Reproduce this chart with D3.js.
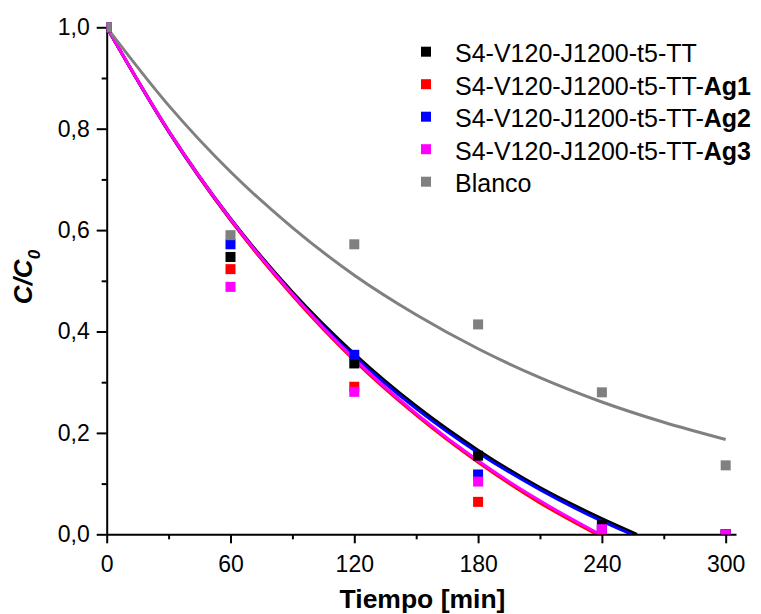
<!DOCTYPE html>
<html><head><meta charset="utf-8">
<script src="https://cdn.jsdelivr.net/npm/d3@7"></script>
<style>
body{margin:0;background:#fff;}
svg{display:block;font-family:"Liberation Sans",Arial,sans-serif;}
</style></head>
<body><svg id="chart" width="761" height="614"></svg>
<script>
// ---- data ----
const times = [0, 60, 120, 180, 240, 300];
const seriesNames = ["S4-V120-J1200-t5-TT", "S4-V120-J1200-t5-TT-", "S4-V120-J1200-t5-TT-", "S4-V120-J1200-t5-TT-", "Blanco"];
const seriesBold = ["", "Ag1", "Ag2", "Ag3", ""];
const seriesColors = ["#000000", "#ff0000", "#0000ff", "#ff00ff", "#808080"];
const valTT     = [1.0, 0.547, 0.337, 0.155, 0.018, 0.0];
const valAg1    = [1.0, 0.523, 0.291, 0.064, 0.004, 0.0];
const valAg2    = [1.0, 0.572, 0.354, 0.118, 0.010, 0.0];
const valAg3    = [1.0, 0.488, 0.281, 0.104, 0.010, 0.0];
const valBlanco = [1.0, 0.590, 0.572, 0.414, 0.280, 0.136];

// fitted curves
const fitTimesTT  = [0, 30, 60, 90, 120, 150, 180, 210, 240, 257];
const fitTT       = [1.0, 0.796, 0.623, 0.478, 0.356, 0.253, 0.166, 0.092, 0.031, 0.0];
const fitTimesAg2 = [0, 30, 60, 90, 120, 150, 180, 210, 240, 254.5];
const fitAg2      = [1.0, 0.794, 0.620, 0.474, 0.351, 0.248, 0.161, 0.088, 0.026, 0.0];
const fitTimesAg1 = [0, 30, 60, 90, 120, 150, 180, 210, 237.5];
const fitAg1      = [1.0, 0.795, 0.620, 0.471, 0.343, 0.235, 0.142, 0.062, 0.0];
const fitTimesAg3 = [0, 30, 60, 90, 120, 150, 180, 210, 239];
const fitAg3      = [1.0, 0.796, 0.622, 0.474, 0.346, 0.238, 0.145, 0.066, 0.0];
const fitTimesBl  = [0, 30, 60, 90, 120, 150, 180, 210, 240, 270, 300];
const fitBlanco   = [1.0, 0.846, 0.715, 0.605, 0.511, 0.433, 0.366, 0.309, 0.261, 0.221, 0.187];

const xMajor = [0, 60, 120, 180, 240, 300];
const xMinor = [30, 90, 150, 210, 270];
const yMajor = [0, 0.2, 0.4, 0.6, 0.8, 1.0];
const yMinor = [0.1, 0.3, 0.5, 0.7, 0.9];

// ---- layout ----
const svg = d3.select("#chart");
const x = d3.scaleLinear().domain([0, 305]).range([106.7, 736]);
const y = d3.scaleLinear().domain([0, 1]).range([534.3, 27.3]);
const fmt = d => d3.format(".1f")(d).replace(".", ",");

svg.append("defs").append("clipPath").attr("id", "clip")
  .append("rect").attr("x", x(0)).attr("y", 0).attr("width", 761 - x(0)).attr("height", y(0));

// axes
const gx = svg.append("g").attr("transform", `translate(0,${y(0)})`)
  .call(d3.axisBottom(x).tickValues(xMajor).tickFormat(d3.format("d")).tickSize(9).tickSizeOuter(0).tickPadding(12));
svg.append("g").attr("transform", `translate(0,${y(0)})`)
  .call(d3.axisBottom(x).tickValues(xMinor).tickFormat("").tickSize(5).tickSizeOuter(0))
  .select(".domain").remove();
const gy = svg.append("g").attr("transform", `translate(${x(0)},0)`)
  .call(d3.axisLeft(y).tickValues(yMajor).tickFormat(fmt).tickSize(10).tickSizeOuter(0).tickPadding(7));
svg.append("g").attr("transform", `translate(${x(0)},0)`)
  .call(d3.axisLeft(y).tickValues(yMinor).tickFormat("").tickSize(5).tickSizeOuter(0))
  .select(".domain").remove();
svg.selectAll(".domain, .tick line").attr("stroke", "#000").attr("stroke-width", 2);
svg.selectAll(".tick text").attr("font-size", 23).attr("fill", "#000")
  .attr("font-family", "Liberation Sans, Arial, sans-serif");

// axis titles
svg.append("text").attr("x", 422.5).attr("y", 608).attr("text-anchor", "middle")
  .attr("font-size", 26.5).attr("font-weight", "bold").text("Tiempo [min]");
const yt = svg.append("text").attr("transform", "translate(32,277) rotate(-90)")
  .attr("text-anchor", "middle").attr("font-size", 26).attr("font-weight", "bold").attr("font-style", "italic");
yt.append("tspan").text("C/C");
yt.append("tspan").attr("font-size", 17).attr("dy", 8).text("0");

// fit lines
const plot = svg.append("g").attr("clip-path", "url(#clip)");
const line = d3.line().x(d => x(d[0])).y(d => y(d[1])).curve(d3.curveMonotoneX);
const fits = [
  [fitTimesTT, fitTT, seriesColors[0]],
  [fitTimesAg2, fitAg2, seriesColors[2]],
  [fitTimesAg1, fitAg1, seriesColors[1]],
  [fitTimesAg3, fitAg3, seriesColors[3]],
  [fitTimesBl, fitBlanco, seriesColors[4]]
];
fits.forEach(([ts, vs, c]) => {
  plot.append("path").datum(ts.map((t, i) => [t, vs[i]]))
    .attr("d", line).attr("fill", "none").attr("stroke", c).attr("stroke-width", 3);
});

// points
const ms = 10;
const pts = [[valTT, 0], [valAg1, 1], [valAg2, 2], [valAg3, 3], [valBlanco, 4]];
pts.forEach(([vals, si]) => {
  plot.append("g").selectAll("rect").data(times.map((t, i) => [t, vals[i]])).join("rect")
    .attr("x", d => x(d[0]) - ms / 2).attr("y", d => y(d[1]) - ms / 2)
    .attr("width", ms).attr("height", ms).attr("fill", seriesColors[si]);
});

// legend
const lg = svg.append("g");
seriesNames.forEach((n, i) => {
  const cy = 51.7 + i * 32.5;
  lg.append("rect").attr("x", 421).attr("y", cy - 5).attr("width", 10).attr("height", 10).attr("fill", seriesColors[i]);
  const t = lg.append("text").attr("x", 455).attr("y", cy + 10.6).attr("font-size", 25).attr("fill", "#000");
  t.append("tspan").text(n);
  if (seriesBold[i]) t.append("tspan").attr("font-weight", "bold").text(seriesBold[i]);
});
</script></body></html>
